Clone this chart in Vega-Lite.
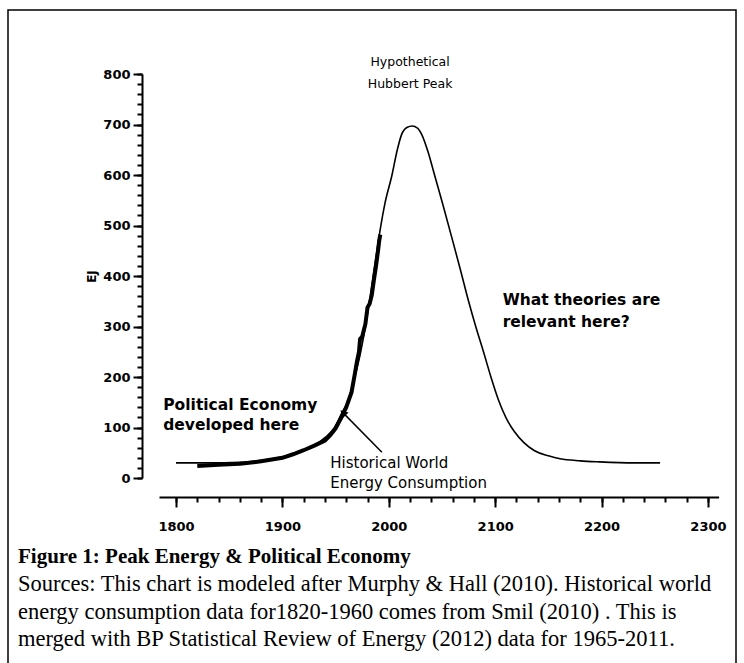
{
  "$schema": "https://vega.github.io/schema/vega-lite/v6.json",
  "autosize": {"type": "none"},
  "padding": {"left": 8, "top": 10, "right": 8, "bottom": -4},
  "width": 728,
  "height": 657,
  "background": "white",
  "config": {
    "view": {"stroke": "black", "strokeWidth": 1.5},
    "axis": {"domainColor": "black", "tickColor": "black", "labelColor": "black", "titleColor": "black", "grid": false}
  },
  "title": {
    "text": "Figure 1: Peak Energy & Political Economy",
    "subtitle": [
      "Sources: This chart is modeled after Murphy & Hall (2010). Historical world",
      "energy consumption data for1820-1960 comes from Smil (2010) . This is",
      "merged with BP Statistical Review of Energy (2012) data for 1965-2011."
    ],
    "orient": "bottom",
    "anchor": "start",
    "frame": "group",
    "offset": -121,
    "dx": 10,
    "font": "Liberation Serif",
    "fontSize": 21,
    "fontWeight": "bold",
    "color": "black",
    "subtitleFont": "Liberation Serif",
    "subtitleFontSize": 22.5,
    "subtitleColor": "black",
    "subtitleLineHeight": 27.5,
    "subtitlePadding": 6
  },
  "datasets": {
    "hubbert": [
      {"year": 1800, "ej": 30}, {"year": 1830, "ej": 30}, {"year": 1860, "ej": 31},
      {"year": 1880, "ej": 35}, {"year": 1900, "ej": 42}, {"year": 1915, "ej": 52},
      {"year": 1930, "ej": 65}, {"year": 1940, "ej": 80}, {"year": 1949, "ej": 100},
      {"year": 1955, "ej": 125}, {"year": 1962, "ej": 155}, {"year": 1968, "ej": 200},
      {"year": 1973, "ej": 244}, {"year": 1978, "ej": 300}, {"year": 1982, "ej": 352},
      {"year": 1986, "ej": 410}, {"year": 1990, "ej": 467}, {"year": 1996, "ej": 540},
      {"year": 2003, "ej": 600}, {"year": 2008, "ej": 650}, {"year": 2012, "ej": 680},
      {"year": 2017, "ej": 694}, {"year": 2022, "ej": 697}, {"year": 2027, "ej": 693},
      {"year": 2031, "ej": 680}, {"year": 2037, "ej": 645}, {"year": 2043, "ej": 600},
      {"year": 2051, "ej": 540}, {"year": 2059, "ej": 478}, {"year": 2067, "ej": 415},
      {"year": 2075, "ej": 350}, {"year": 2082, "ej": 298}, {"year": 2089, "ej": 250},
      {"year": 2096, "ej": 200}, {"year": 2103, "ej": 155}, {"year": 2110, "ej": 120},
      {"year": 2118, "ej": 92}, {"year": 2127, "ej": 70}, {"year": 2137, "ej": 54},
      {"year": 2150, "ej": 44}, {"year": 2161, "ej": 38}, {"year": 2180, "ej": 34},
      {"year": 2198, "ej": 32}, {"year": 2230, "ej": 30}, {"year": 2255, "ej": 30}
    ],
    "historical": [
      {"year": 1820, "ej": 24}, {"year": 1840, "ej": 26}, {"year": 1860, "ej": 28},
      {"year": 1880, "ej": 33}, {"year": 1900, "ej": 40}, {"year": 1910, "ej": 47},
      {"year": 1920, "ej": 55}, {"year": 1930, "ej": 64}, {"year": 1940, "ej": 74},
      {"year": 1945, "ej": 85}, {"year": 1950, "ej": 98}, {"year": 1955, "ej": 118},
      {"year": 1960, "ej": 140}, {"year": 1962, "ej": 152}, {"year": 1965, "ej": 170},
      {"year": 1968, "ej": 205}, {"year": 1970, "ej": 230}, {"year": 1972, "ej": 250},
      {"year": 1973, "ej": 275}, {"year": 1975, "ej": 280}, {"year": 1978, "ej": 305},
      {"year": 1980, "ej": 338}, {"year": 1982, "ej": 345}, {"year": 1984, "ej": 362},
      {"year": 1986, "ej": 392}, {"year": 1988, "ej": 420}, {"year": 1990, "ej": 452},
      {"year": 1991, "ej": 470}, {"year": 1992, "ej": 482}
    ]
  },
  "layer": [
    {
      "data": {"name": "hubbert"},
      "mark": {"type": "line", "color": "black", "strokeWidth": 1.6, "interpolate": "monotone", "clip": false},
      "encoding": {
        "x": {"field": "year", "type": "quantitative",
              "scale": {"domain": [1784, 2310], "range": [151, 710.6], "nice": false, "zero": false},
              "axis": {"orient": "bottom", "offset": -170, "values": [1800, 1900, 2000, 2100, 2200, 2300],
                       "title": null, "tickSize": 10, "tickWidth": 2, "domainWidth": 2,
                       "labelFont": "DejaVu Sans", "labelFontWeight": "bold", "labelFontSize": 13, "labelPadding": 13,
                       "format": "d", "labelFlush": false}},
        "y": {"field": "ej", "type": "quantitative",
              "scale": {"domain": [0, 800], "range": [468, 64], "nice": false, "zero": false},
              "axis": {"orient": "left", "offset": -134, "values": [0, 100, 200, 300, 400, 500, 600, 700, 800],
                       "title": "EJ", "titleFont": "DejaVu Sans", "titleFontWeight": "bold", "titleFontSize": 12,
                       "titlePadding": 4, "tickSize": 9, "tickWidth": 2, "domainWidth": 2,
                       "labelFont": "DejaVu Sans", "labelFontWeight": "bold", "labelFontSize": 13, "labelPadding": 3,
                       "labelFlush": false}}
      }
    },
    {
      "data": {"name": "historical"},
      "mark": {"type": "line", "color": "black", "strokeWidth": 4, "clip": false},
      "encoding": {
        "x": {"field": "year", "type": "quantitative",
              "axis": {"orient": "bottom", "offset": -170,
                       "values": [1800, 1820, 1840, 1860, 1880, 1900, 1920, 1940, 1960, 1980, 2000, 2020, 2040, 2060, 2080, 2100, 2120, 2140, 2160, 2180, 2200, 2220, 2240, 2260, 2280, 2300],
                       "labels": false, "domain": false, "title": null, "tickSize": 5, "tickWidth": 2}},
        "y": {"field": "ej", "type": "quantitative",
              "axis": {"orient": "left", "offset": -134,
                       "values": [0, 20, 40, 60, 80, 100, 120, 140, 160, 180, 200, 220, 240, 260, 280, 300, 320, 340, 360, 380, 400, 420, 440, 460, 480, 500, 520, 540, 560, 580, 600, 620, 640, 660, 680, 700, 720, 740, 760, 780, 800],
                       "labels": false, "domain": false, "title": null, "tickSize": 5, "tickWidth": 2}}
      }
    },
    {
      "data": {"values": [{"year": 1993.5, "ej": 51, "year2": 1958, "ej2": 127}]},
      "mark": {"type": "rule", "color": "black", "strokeWidth": 1.5, "clip": false},
      "encoding": {
        "x": {"field": "year", "type": "quantitative", "axis": null},
        "y": {"field": "ej", "type": "quantitative", "axis": null},
        "x2": {"field": "year2"},
        "y2": {"field": "ej2"}
      }
    },
    {
      "data": {"values": [{"year": 1957, "ej": 129}]},
      "mark": {"type": "point", "shape": "triangle-up", "filled": true, "color": "black", "size": 70, "angle": 315, "opacity": 1, "clip": false},
      "encoding": {
        "x": {"field": "year", "type": "quantitative", "axis": null},
        "y": {"field": "ej", "type": "quantitative", "axis": null}
      }
    },
    {
      "data": {"values": [{"year": 2020, "ej": 824, "label": "Hypothetical"}, {"year": 2020, "ej": 780, "label": "Hubbert Peak"}]},
      "mark": {"type": "text", "align": "center", "baseline": "middle", "font": "DejaVu Sans", "fontSize": 12.5, "color": "black", "clip": false},
      "encoding": {
        "x": {"field": "year", "type": "quantitative", "axis": null},
        "y": {"field": "ej", "type": "quantitative", "axis": null},
        "text": {"field": "label"}
      }
    },
    {
      "data": {"values": [{"year": 1945, "ej": 30, "label": "Historical World"}, {"year": 1945, "ej": -10, "label": "Energy Consumption"}]},
      "mark": {"type": "text", "align": "left", "baseline": "middle", "font": "DejaVu Sans", "fontSize": 15, "color": "black", "clip": false},
      "encoding": {
        "x": {"field": "year", "type": "quantitative", "axis": null},
        "y": {"field": "ej", "type": "quantitative", "axis": null},
        "text": {"field": "label"}
      }
    },
    {
      "data": {"values": [
        {"year": 1788, "ej": 145, "label": "Political Economy"},
        {"year": 1788, "ej": 105, "label": "developed here"},
        {"year": 2107, "ej": 352, "label": "What theories are"},
        {"year": 2107, "ej": 309, "label": "relevant here?"}
      ]},
      "mark": {"type": "text", "align": "left", "baseline": "middle", "font": "DejaVu Sans", "fontSize": 15.5, "fontWeight": "bold", "color": "black", "clip": false},
      "encoding": {
        "x": {"field": "year", "type": "quantitative", "axis": null},
        "y": {"field": "ej", "type": "quantitative", "axis": null},
        "text": {"field": "label"}
      }
    }
  ],
  "resolve": {"axis": {"x": "independent", "y": "independent"}}
}
